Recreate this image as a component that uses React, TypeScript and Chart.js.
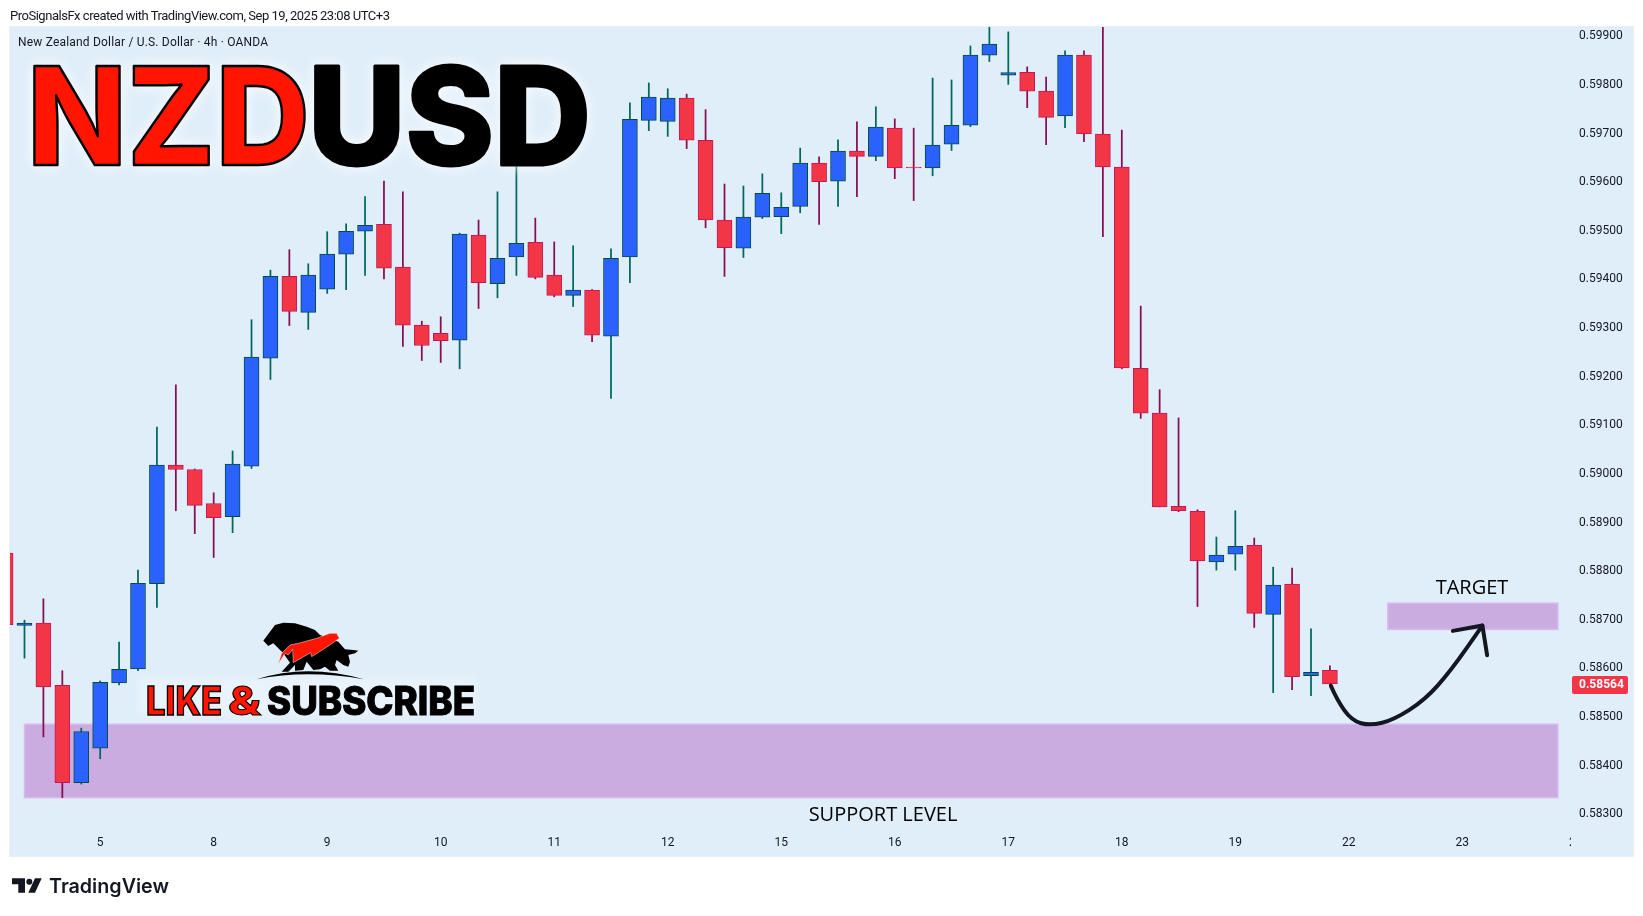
import { useEffect, useRef } from 'react'

import { Chart, type Plugin, registerables } from 'chart.js'

Chart.register(...registerables)

// 4h candles, the first one is cut off by the left edge of the pane
const opens = [
  0.58833, 0.58684, 0.58689, 0.58561, 0.58361, 0.58432, 0.58566, 0.58595, 0.5877, 0.59014, 0.59005, 0.58935,
  0.58908, 0.59012, 0.59234, 0.59402, 0.59328, 0.59376, 0.59448, 0.59495, 0.59509, 0.59421, 0.59302, 0.59285,
  0.59271, 0.59487, 0.59387, 0.59442, 0.59472, 0.59405, 0.59363, 0.59374, 0.59279, 0.59442, 0.59723, 0.59721,
  0.59769, 0.59682, 0.59518, 0.5946, 0.59524, 0.59525, 0.59546, 0.59635, 0.59598, 0.5966, 0.59649, 0.59707,
  0.59627, 0.59625, 0.59674, 0.59713, 0.59857, 0.59816, 0.59822, 0.59783, 0.59732, 0.59857, 0.59695, 0.59627,
  0.59213, 0.59121, 0.58929, 0.58919, 0.58815, 0.58831, 0.58849, 0.58707, 0.58769, 0.58581, 0.58592,
]
const highs = [
  0.58833, 0.58695, 0.58739, 0.58591, 0.58473, 0.5857, 0.5865, 0.58798, 0.59092, 0.59179, 0.59006, 0.58957,
  0.59043, 0.59313, 0.59415, 0.59457, 0.59428, 0.59494, 0.5951, 0.59566, 0.59598, 0.59576, 0.5931, 0.59319,
  0.59491, 0.59518, 0.59576, 0.59639, 0.59522, 0.59473, 0.59465, 0.59375, 0.59459, 0.59759, 0.598, 0.59788,
  0.59777, 0.59745, 0.59592, 0.59588, 0.59613, 0.59574, 0.59666, 0.59648, 0.59683, 0.5972, 0.59751, 0.59726,
  0.59707, 0.5981, 0.59806, 0.59876, 0.5993, 0.59905, 0.59833, 0.59812, 0.59866, 0.59866, 0.5993, 0.59703,
  0.59341, 0.59169, 0.59111, 0.58922, 0.58866, 0.5892, 0.58864, 0.58804, 0.58802, 0.58677, 0.58601,
]
const lows = [
  0.58686, 0.58617, 0.58455, 0.5833, 0.58358, 0.5841, 0.58562, 0.58591, 0.58721, 0.5892, 0.58873, 0.58824,
  0.58875, 0.59007, 0.5919, 0.59301, 0.59293, 0.59367, 0.59375, 0.59404, 0.59397, 0.59258, 0.59229, 0.59225,
  0.59212, 0.59336, 0.59358, 0.59404, 0.59397, 0.5936, 0.5934, 0.59268, 0.59151, 0.59389, 0.59702, 0.5969,
  0.59665, 0.59502, 0.59402, 0.59441, 0.59521, 0.5949, 0.59533, 0.59509, 0.59546, 0.59566, 0.5964, 0.59603,
  0.59558, 0.59609, 0.59661, 0.5971, 0.59844, 0.59797, 0.59749, 0.59673, 0.59708, 0.59679, 0.59484, 0.59212,
  0.5911, 0.58928, 0.58918, 0.58723, 0.58798, 0.58798, 0.5868, 0.58546, 0.58552, 0.5854, 0.5856,
]
const closes = [
  0.58686, 0.58689, 0.58558, 0.58361, 0.58466, 0.58567, 0.58594, 0.58771, 0.59014, 0.59005, 0.58931, 0.58906,
  0.59016, 0.59236, 0.59402, 0.5933, 0.59405, 0.59448, 0.59495, 0.59507, 0.59419, 0.59302, 0.5926, 0.5927,
  0.59489, 0.59389, 0.59439, 0.5947, 0.594, 0.59363, 0.59374, 0.59281, 0.59439, 0.59725, 0.59771, 0.59769,
  0.59682, 0.59518, 0.59461, 0.59524, 0.59573, 0.59544, 0.59635, 0.59597, 0.5966, 0.59649, 0.59709, 0.59625,
  0.59625, 0.59672, 0.59713, 0.59857, 0.5988, 0.59821, 0.59783, 0.59729, 0.59857, 0.59695, 0.59627, 0.59214,
  0.59121, 0.58928, 0.5892, 0.58817, 0.58829, 0.58847, 0.58709, 0.58767, 0.58579, 0.58588, 0.58564,
]

const priceTicks = [
  0.583, 0.584, 0.585, 0.586, 0.587, 0.588, 0.589, 0.59, 0.591, 0.592, 0.593, 0.594, 0.595, 0.596, 0.597, 0.598,
  0.599,
]
const dayTickIndex = [4, 10, 16, 22, 28, 34, 40, 46, 52, 58, 64, 70, 76]
const dayTickLabels = ['5', '8', '9', '10', '11', '12', '15', '16', '17', '18', '19', '22', '23']

const lastPrice = 0.58564

// drawings: [from index, to index, upper price, lower price]
const supportZone = [0, 81.05, 0.58481, 0.5833]
const targetZone = [72.06, 81.05, 0.5873, 0.58676]

// hand drawn arrow, [index, price]
const arrowCurve = [
  [69.05, 0.5856],
  [69.37, 0.58531],
  [70.16, 0.58488],
  [71.14, 0.58478],
  [72.38, 0.5849],
  [74.02, 0.58531],
  [75.39, 0.58591],
  [77.06, 0.58684],
]
const arrowHead = [
  [75.5, 0.58673],
  [77.06, 0.58684],
  [77.31, 0.58623],
]

const isUp = (i: number) => closes[i] >= opens[i]

const drawingsPlugin: Plugin<'bar'> = {
  id: 'drawings',
  beforeDraw(chart) {
    const { ctx } = chart
    ctx.save()
    ctx.fillStyle = '#e0eef9'
    ctx.fillRect(10, 27, 1623, 829)
    ctx.strokeStyle = '#eceef1'
    ctx.strokeRect(9.5, 26.5, 1624, 830)
    ctx.restore()
  },
  beforeDatasetsDraw(chart) {
    const { ctx, scales } = chart
    ctx.save()
    ctx.fillStyle = '#cbace0'
    ctx.strokeStyle = '#d9b9ef'
    ctx.lineWidth = 1.5
    for (const [x0, x1, top, bottom] of [supportZone, targetZone]) {
      const x = scales.x.getPixelForValue(x0)
      const y = scales.y.getPixelForValue(top)
      const w = scales.x.getPixelForValue(x1) - x
      const h = scales.y.getPixelForValue(bottom) - y
      ctx.fillRect(x, y, w, h)
      ctx.strokeRect(x, y, w, h)
    }
    ctx.restore()
  },
  afterDatasetsDraw(chart) {
    const { ctx, scales } = chart
    const px = (p: number[]) => [scales.x.getPixelForValue(p[0]), scales.y.getPixelForValue(p[1])]

    ctx.save()
    ctx.strokeStyle = '#131722'
    ctx.lineWidth = 4
    ctx.lineCap = 'round'
    ctx.lineJoin = 'round'
    const pts = arrowCurve.map(px)
    ctx.beginPath()
    ctx.moveTo(pts[0][0], pts[0][1])
    for (let i = 1; i < pts.length - 1; i++) {
      const mx = (pts[i][0] + pts[i + 1][0]) / 2
      const my = (pts[i][1] + pts[i + 1][1]) / 2
      ctx.quadraticCurveTo(pts[i][0], pts[i][1], mx, my)
    }
    ctx.lineTo(pts[pts.length - 1][0], pts[pts.length - 1][1])
    ctx.stroke()
    ctx.beginPath()
    arrowHead.map(px).forEach(([x, y], i) => (i ? ctx.lineTo(x, y) : ctx.moveTo(x, y)))
    ctx.stroke()

    ctx.fillStyle = '#000000'
    ctx.textAlign = 'center'
    ctx.textBaseline = 'middle'
    ctx.font = '500 20px "Open Sans"'
    ctx.fillText('TARGET', 1472, 588)
    ctx.fillText('SUPPORT LEVEL', 883, 815)
    ctx.restore()
  },
  afterDraw(chart) {
    const { ctx, scales } = chart
    const y = scales.y.getPixelForValue(lastPrice)

    ctx.save()
    ctx.fillStyle = '#f23645'
    ctx.beginPath()
    ctx.roundRect(1572, y - 8, 56, 18, 2)
    ctx.fill()
    ctx.fillStyle = '#ffffff'
    ctx.font = 'bold 12px Roboto'
    ctx.textBaseline = 'middle'
    ctx.fillText(lastPrice.toFixed(5), 1579, y + 1.5)

    // next day label, only a sliver shows before the price scale
    ctx.beginPath()
    ctx.rect(1560, 830, 11, 22)
    ctx.clip()
    ctx.fillStyle = '#131722'
    ctx.textAlign = 'center'
    ctx.font = '12px Roboto'
    ctx.fillText('24', scales.x.getPixelForValue(82), 843)
    ctx.restore()
  },
}

function CandleChart() {
  const chartRef = useRef<HTMLCanvasElement>(null)

  useEffect(() => {
    if (!chartRef.current) return

    const index = opens.map((_, i) => i - 1)
    const chart = new Chart(chartRef.current, {
      type: 'bar',
      data: {
        datasets: [
          {
            label: 'wick',
            data: index.map((x, i) => ({ x, y: [lows[i], highs[i]] })) as any,
            backgroundColor: opens.map((_, i) => (isUp(i) ? '#00695c' : '#880e4f')),
            barThickness: 1.1,
            grouped: false,
            order: 2,
          },
          {
            label: 'body',
            data: index.map((x, i) => ({ x, y: [opens[i], closes[i]] })) as any,
            backgroundColor: opens.map((_, i) => (isUp(i) ? '#2962ff' : '#f23645')),
            borderColor: opens.map((_, i) => (isUp(i) ? '#004d40' : '#c2185b')),
            borderWidth: 1,
            borderSkipped: false,
            barThickness: 15,
            grouped: false,
            order: 1,
          },
        ],
      },
      options: {
        responsive: false,
        animation: false,
        layout: { autoPadding: false, padding: { left: 10, top: 27, right: 10, bottom: 60 } },
        plugins: { legend: { display: false }, tooltip: { enabled: false } },
        scales: {
          x: {
            type: 'linear',
            offset: false,
            min: -0.766,
            max: 81.69,
            grid: { display: false },
            border: { display: false },
            afterFit: (scale) => {
              scale.height = 30
            },
            afterBuildTicks: (scale) => {
              scale.ticks = dayTickIndex.map((value) => ({ value }))
            },
            ticks: {
              autoSkip: false,
              maxRotation: 0,
              padding: 1.5,
              color: '#131722',
              font: { family: 'Roboto', size: 12 },
              callback: (value) => dayTickLabels[dayTickIndex.indexOf(Number(value))],
            },
          },
          y: {
            position: 'right',
            min: 0.582717,
            max: 0.59915,
            grid: { display: false },
            border: { display: false },
            afterFit: (scale) => {
              scale.width = 63
            },
            afterBuildTicks: (scale) => {
              scale.ticks = priceTicks.map((value) => ({ value }))
            },
            ticks: {
              padding: 1,
              labelOffset: 2,
              color: '#131722',
              font: { family: 'Roboto', size: 12 },
              callback: (value) => Number(value).toFixed(5),
            },
          },
        },
      },
      plugins: [drawingsPlugin],
    })

    return () => {
      chart.destroy()
    }
  }, [])

  return <canvas ref={chartRef} width={1643} height={916} style={{ position: 'absolute', left: 0, top: 0 }} />
}

// text and logos that sit on top of the chart
function Overlay() {
  const heavy = { fontFamily: 'Inter', fontWeight: 800 }
  return (
    <svg width={1643} height={916} style={{ position: 'absolute', left: 0, top: 0, pointerEvents: 'none' }}>
      <defs>
        <filter id="soft" x="-10%" y="-30%" width="120%" height="160%">
          <feGaussianBlur stdDeviation="4" />
        </filter>
      </defs>
      <text x={10} y={20} fontFamily="Roboto" fontSize={13} fill="#131722" textLength={380}>
        ProSignalsFx created with TradingView.com, Sep 19, 2025 23:08 UTC+3
      </text>
      <text x={18} y={46} fontFamily="Roboto" fontSize={12} fill="#131722" textLength={250}>
        New Zealand Dollar / U.S. Dollar · 4h · OANDA
      </text>

      <g style={{ filter: 'drop-shadow(0 0 7px rgba(255,255,255,0.9))' }}>
        <text
          x={27}
          y={165}
          {...heavy}
          fontSize={136}
          fill="#ff1500"
          stroke="#000000"
          strokeWidth={2.5}
          strokeLinejoin="round"
          textLength={283}
          lengthAdjust="spacingAndGlyphs"
        >
          NZD
        </text>
        <text
          x={308}
          y={165}
          {...heavy}
          fontSize={136}
          fill="#000000"
          stroke="#000000"
          strokeWidth={3}
          strokeLinejoin="round"
          textLength={283}
          lengthAdjust="spacingAndGlyphs"
        >
          USD
        </text>
      </g>

      <rect x={138} y={677} width={338} height={38} fill="#ffffff" opacity={0.3} filter="url(#soft)" />
      <g transform="translate(240 610) scale(0.3333)">
        <path
          d="M70 92 L85 72 L105 45 L130 38 L165 40 L200 50 L225 60 L240 75 L295 95 L315 118 L340 120 L355 122 L345 130 L325 135 L330 155 L325 170 L310 165 L290 150 L285 165 L295 182 L270 182 L255 170 L240 178 L220 180 L200 155 L190 180 L165 182 L165 165 L145 185 L125 185 L150 158 L130 130 L115 115 L100 100 L90 105 L85 108 Z"
          fill="#000000"
        />
        <path
          d="M115 162 L125 130 L150 105 L175 100 L230 85 L270 70 L290 70 L298 85 L270 105 L215 140 L212 128 L160 158 L158 118 L145 135 L135 130 Z"
          fill="#ff1500"
          stroke="#e8eef5"
          strokeWidth={1.5}
        />
        <path d="M50 208 Q200 160 372 208 Q200 178 50 208 Z" fill="#000000" />
      </g>
      <g {...heavy} fontSize={39}>
        <text x={146} y={715} fill="#ff1500" stroke="#000000" strokeWidth={1.5} textLength={76} lengthAdjust="spacingAndGlyphs">
          LIKE
        </text>
        <text x={228} y={715} fill="#ff1500" stroke="#000000" strokeWidth={1} textLength={33} lengthAdjust="spacingAndGlyphs">
          &amp;
        </text>
        <text x={267} y={715} fill="#000000" stroke="#000000" strokeWidth={1} textLength={208} lengthAdjust="spacingAndGlyphs">
          SUBSCRIBE
        </text>
      </g>

      <g fill="#131722">
        <path d="M12 878.3 H25 V892.7 H18.3 V884.3 H12 Z" />
        <circle cx={29.3} cy={881.7} r={3} />
        <path d="M35 878.3 H41.7 L35 892.7 H28.3 Z" />
        <text x={49} y={893} fontFamily="Inter" fontWeight={600} fontSize={19.5} textLength={120} lengthAdjust="spacingAndGlyphs">
          TradingView
        </text>
      </g>
    </svg>
  )
}

export default function App() {
  return (
    <div style={{ position: 'absolute', left: 0, top: 0, width: 1643, height: 916, background: '#ffffff' }}>
      <CandleChart />
      <Overlay />
    </div>
  )
}
